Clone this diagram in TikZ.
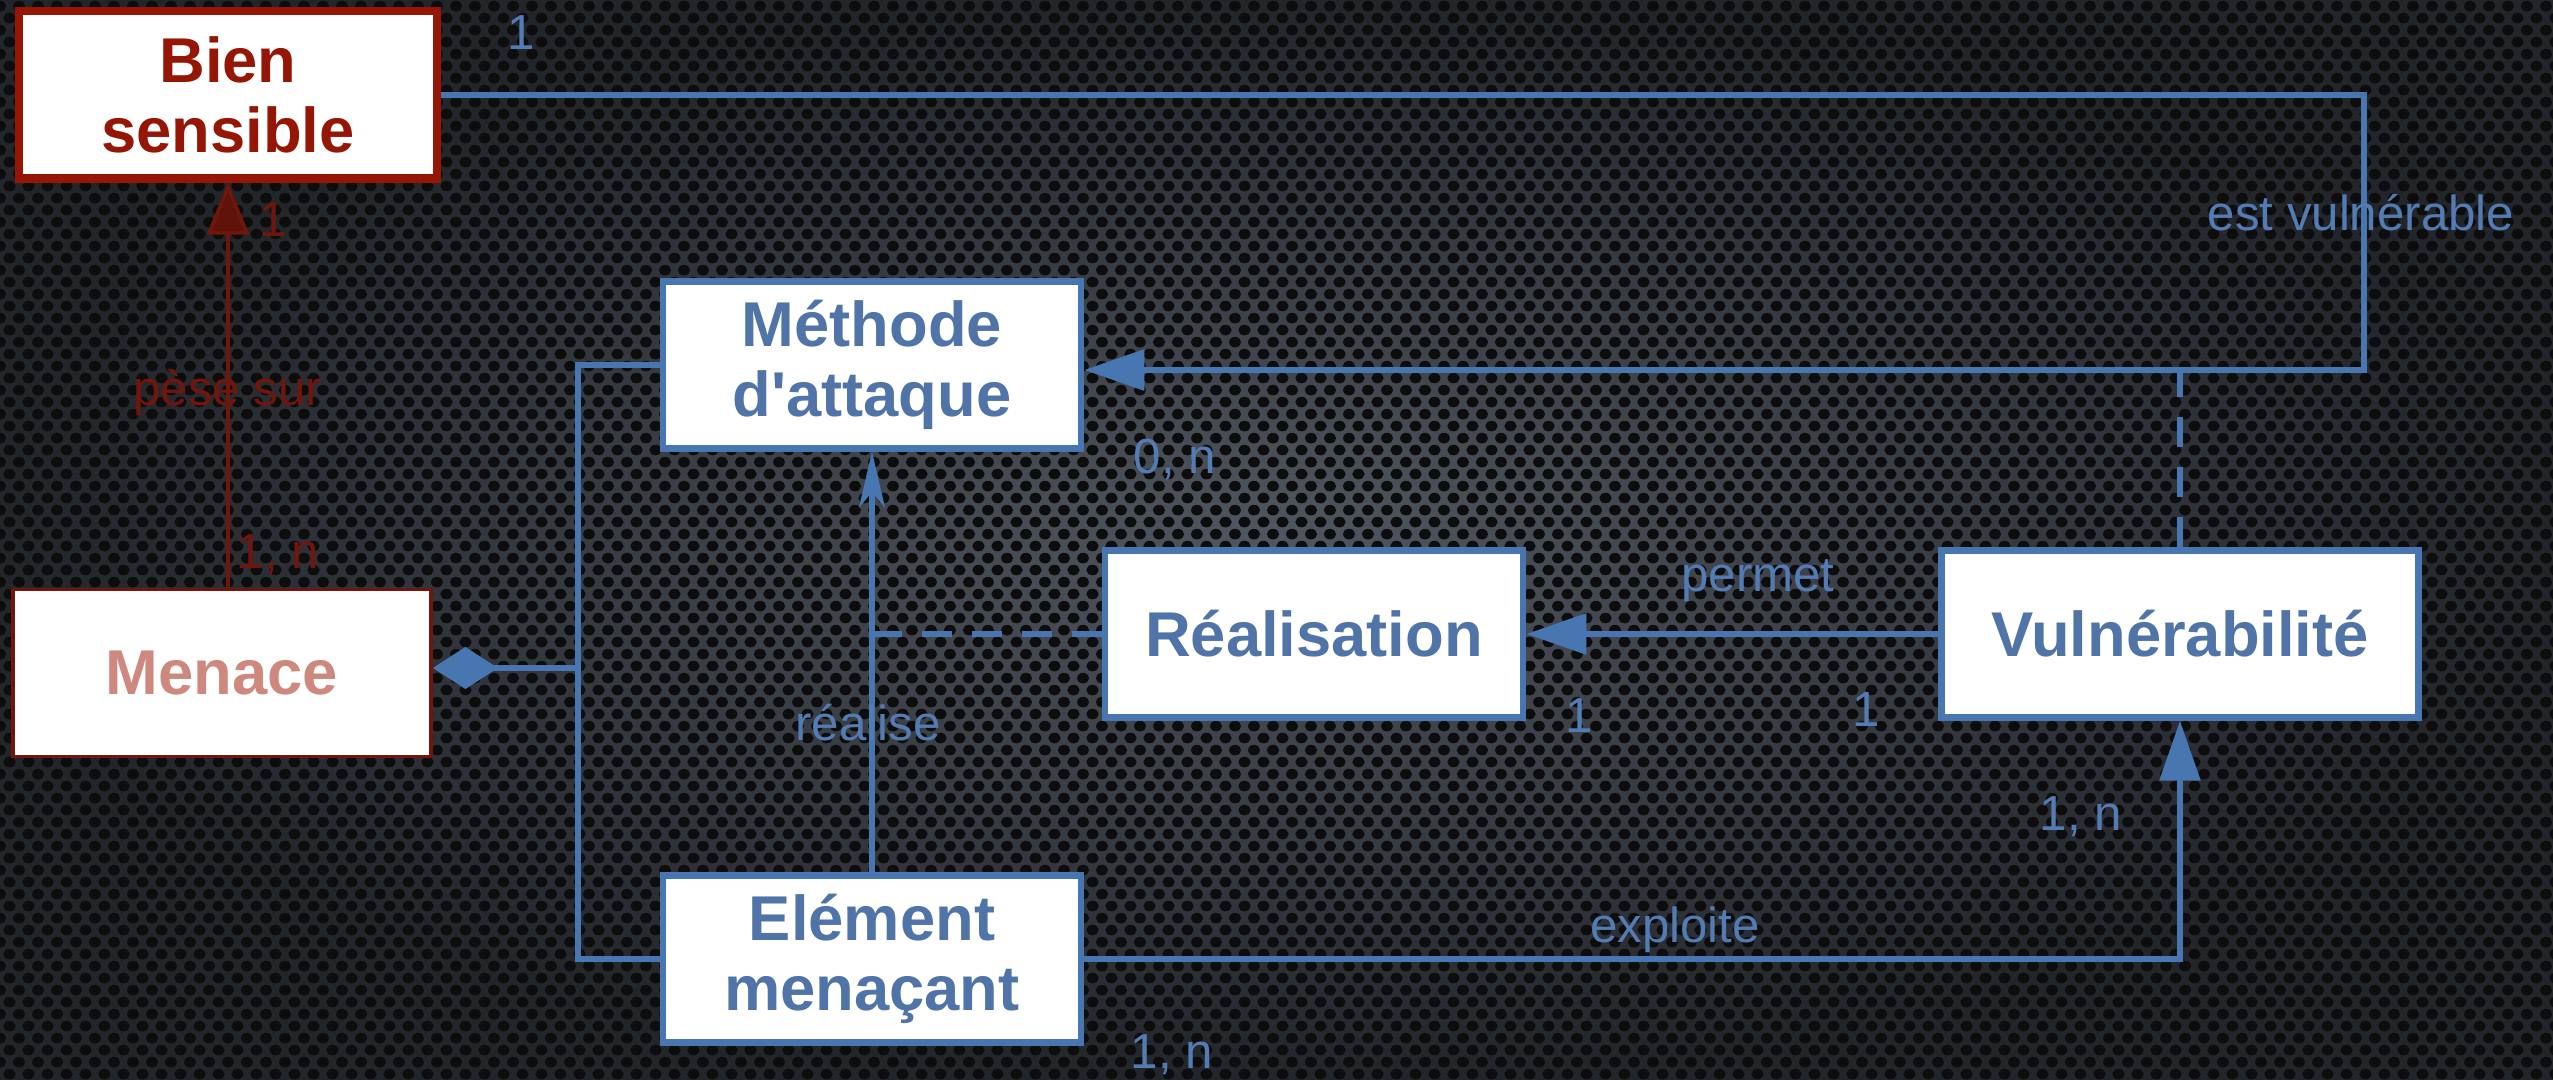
\documentclass[tikz,border=0pt]{standalone}
\usepackage{fontspec}
\setmainfont{Liberation Sans}
\usetikzlibrary{arrows.meta,patterns.meta}
\definecolor{ccblue}{RGB}{72,118,176}
\definecolor{cctext}{RGB}{80,116,168}
\definecolor{cclabel}{RGB}{84,124,180}
\definecolor{ccred}{RGB}{150,22,6}
\definecolor{ccdarkred}{RGB}{112,22,12}
\definecolor{ccpink}{RGB}{206,136,126}
\definecolor{ccfondclair}{RGB}{80,86,95}
\definecolor{ccfondsombre}{RGB}{34,37,42}

\tikzdeclarepattern{
  name=trous, type=uncolored,
  bottom left={(0pt,0pt)}, top right={(5.4pt,6.8pt)},
  tile size={(5.4pt,6.8pt)},
  code={
    \fill (2.7pt,1.7pt) ellipse (1.75pt and 1.5pt);
    \fill (0pt,5.1pt) ellipse (1.75pt and 1.5pt);
    \fill (5.4pt,5.1pt) ellipse (1.75pt and 1.5pt);
  }
}

\begin{document}
\begin{tikzpicture}[x=0.01cm,y=-0.01cm]

  % Style des boxes
  \tikzstyle{boite} = [draw=ccblue, line width=1.8pt, fill=white, text=cctext, font=\fontsize{18}{20}\selectfont\bfseries, align=center, minimum width=4.18cm, minimum height=1.67cm, inner sep=0pt]
  \tikzstyle{boiterouge} = [boite, draw=ccred, line width=2.3pt, text=ccred]
  \tikzstyle{boiterose} = [boite, draw=ccdarkred, line width=1pt, text=ccpink]
  % Style des fleches
  \tikzstyle{ligne} = [ccblue, line width=1.7pt]
  \tikzstyle{fleche} = [ligne, -{Triangle[length=0.6cm,width=0.4cm]}]
  \tikzstyle{flechefine} = [ligne, -{Stealth[length=0.56cm,width=0.26cm,inset=0.16cm]}]
  \tikzstyle{pointille} = [ligne, dash pattern=on 0.3cm off 0.2cm]
  \tikzstyle{flecherouge} = [ccdarkred, line width=1pt, -{Triangle[length=0.52cm,width=0.42cm,fill=ccdarkred!85!black]}]
  \tikzstyle{etiq} = [text=cclabel, font=\fontsize{14}{16}\selectfont, inner sep=0pt]
  \tikzstyle{etiqrouge} = [etiq, text=ccdarkred]

  % Fond
  \useasboundingbox (0,0) rectangle (2553,1080);
  \shade[inner color=ccfondclair, outer color=ccfondsombre] (0,0) rectangle (2553,1080);
  \fill[pattern={trous}, pattern color=black!95] (0,0) rectangle (2553,1080);

  % Liste des boxes
  \draw (228,95) node[boiterouge] (bien) {Bien\\sensible};
  \draw (222,673) node[boiterose] (menace) {Menace};
  \draw (872,365) node[boite] (methode) {Méthode\\d\textquotesingle attaque};
  \draw (1314,634) node[boite] (realisation) {Réalisation};
  \draw (2180,634) node[boite, minimum width=4.77cm] (vuln) {Vulnérabilité};
  \draw (872,959) node[boite] (element) {Elément\\menaçant};

  \coordinate (coin) at (2364,370);
  \coordinate (bus) at (578,668);

  % Bien -> Methode
  \draw[fleche] (bien.east) -| (coin) -- (coin -| methode.east);
  \draw[pointille] (vuln.north) -- (vuln.north |- coin);

  % Vulnerabilite -> Realisation
  \draw[fleche] (vuln.west) -- (realisation.east);

  % Element -> Methode
  \draw[flechefine] (element.north) -- (methode.south);
  \draw[pointille] (realisation.west) -- (realisation.west -| methode.south);

  % Element -> Vulnerabilite
  \draw[fleche] (element.east) -| (vuln.south);

  % Menace <>- Methode, Element
  \draw[ligne] (methode.west) -| (bus) |- (element.west);
  \draw[ligne, {Diamond[length=0.65cm,width=0.42cm]}-] (menace.east |- bus) -- (bus);

  % Menace -> Bien
  \draw[flecherouge] (bien.south |- menace.north) -- (bien.south);

  % Etiquettes
  \draw (521,33) node[etiq] (cardbien) {1};
  \draw (2361,213) node[etiq] (estvuln) {est vulnérable};
  \draw (1175,459) node[etiq] (cardmethode) {0, n};
  \draw (1758,581) node[etiq] (permet) {permet};
  \draw (1579,716) node[etiq] (cardreal) {1};
  \draw (1866,710) node[etiq] (cardvulnA) {1};
  \draw (868,723) node[etiq] (realise) {réalise};
  \draw (2081,817) node[etiq] (cardvulnB) {1, n};
  \draw (1675,930) node[etiq] (exploite) {exploite};
  \draw (1172,1055) node[etiq] (cardelement) {1, n};
  \draw (273,220) node[etiqrouge] (cardbienB) {1};
  \draw (228,392) node[etiqrouge] (pese) {pèse sur};
  \draw (278,555) node[etiqrouge] (cardmenace) {1, n};

\end{tikzpicture}
\end{document}
